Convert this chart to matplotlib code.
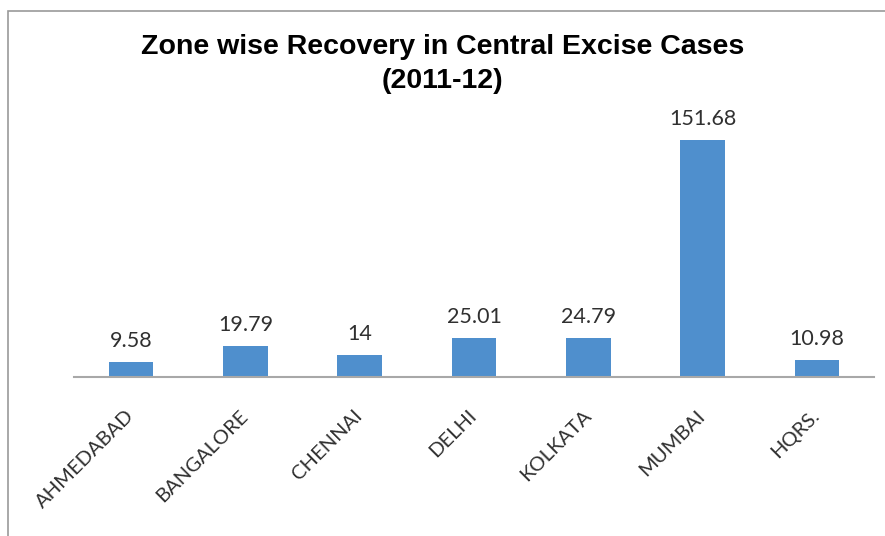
import matplotlib

matplotlib.use("Agg")
import matplotlib.pyplot as plt
from matplotlib.patches import Rectangle

ZONES = ["AHMEDABAD", "BANGALORE", "CHENNAI", "DELHI", "KOLKATA", "MUMBAI", "HQRS."]
RECOVERY = [9.58, 19.79, 14, 25.01, 24.79, 151.68, 10.98]
VALUE_LABELS = ["9.58", "19.79", "14", "25.01", "24.79", "151.68", "10.98"]

BAR_COLOR = "#4F8FCD"
TEXT_COLOR = "#303030"


def main():
    fig = plt.figure(figsize=(8.85, 5.36), dpi=100)
    fig.patch.set_facecolor("white")
    # thin grey frame around the chart area (right/bottom edges run off the image)
    fig.patches.append(Rectangle((8 / 885, -0.05), 1.1, 1.05 - 11 / 536,
                                 transform=fig.transFigure, fill=False,
                                 edgecolor="#9A9A9A", linewidth=1.2))

    ax = fig.add_axes([74 / 885, 1 - 377 / 536, 800 / 885, 250 / 536])
    x = range(len(ZONES))
    bars = ax.bar(x, RECOVERY, width=0.39, color=BAR_COLOR)
    ax.bar_label(bars, labels=VALUE_LABELS, padding=8, fontsize=15.5,
                 color=TEXT_COLOR, family="Lato")

    ax.set_xlim(-0.5, len(ZONES) - 0.5)
    ax.set_ylim(0, 160)
    ax.set_xticks(list(x))
    ax.set_xticklabels(ZONES, rotation=45, ha="right", va="center",
                       rotation_mode="anchor", fontsize=14.5,
                       color=TEXT_COLOR, family="Lato")
    ax.tick_params(axis="x", length=0, pad=26)
    ax.set_yticks([])
    for side in ["top", "left", "right"]:
        ax.spines[side].set_visible(False)
    ax.spines["bottom"].set_color("#A8A8A8")
    ax.spines["bottom"].set_linewidth(1.5)

    fig.text(0.5, 1 - 47 / 536, "Zone wise Recovery in Central Excise Cases",
             ha="center", va="center", fontsize=20.5, fontweight="bold",
             family="Liberation Sans", color="black")
    fig.text(0.5, 1 - 81 / 536, "(2011-12)",
             ha="center", va="center", fontsize=20.5, fontweight="bold",
             family="Liberation Sans", color="black")

    fig.savefig("out.png", dpi=100, facecolor="white")
    plt.close(fig)


if __name__ == "__main__":
    main()
